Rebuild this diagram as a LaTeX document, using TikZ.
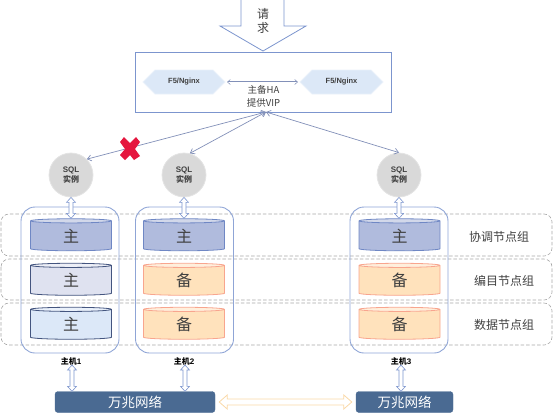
\documentclass[tikz,border=0pt]{standalone}
\usepackage{fontspec}
\setmainfont{Liberation Sans}
\newfontfamily\cjk{Noto Sans CJK SC}
\usetikzlibrary{shapes.geometric,arrows.meta,calc}
\definecolor{hostc}{HTML}{8FA5D6}
\definecolor{dashc}{HTML}{A6A6A6}
\definecolor{linkc}{HTML}{8290B8}
\definecolor{dblc}{HTML}{7C95CE}
\definecolor{netc}{HTML}{4A6A92}
\definecolor{txtc}{HTML}{404040}
\definecolor{sqlf}{HTML}{D9D9D9}
\definecolor{sqlb}{HTML}{E4E4E4}
\definecolor{hexc}{HTML}{DCE8F7}
\definecolor{hexb}{HTML}{EAF1FA}
\definecolor{orgl}{HTML}{FAD9A8}
\definecolor{crossc}{HTML}{E5173F}
\definecolor{abody}{HTML}{B0BBDD}
\definecolor{aend}{HTML}{D2D8EA}
\definecolor{aline}{HTML}{6F87C4}
\definecolor{bbody}{HTML}{DFE2F0}
\definecolor{bend}{HTML}{EDEFF7}
\definecolor{bline}{HTML}{44557F}
\definecolor{cbody}{HTML}{DCE8F8}
\definecolor{cend}{HTML}{EAF1FB}
\definecolor{dbody}{HTML}{FFE2BC}
\definecolor{dend}{HTML}{FFEFDC}
\definecolor{dline}{HTML}{F8A58E}
\tikzset{
  x=1pt,y=-1pt,
  group/.style={draw=dashc,dash pattern=on 3.5pt off 2pt,line width=.6pt,rounded corners=8pt},
  host/.style={draw=hostc,line width=.9pt,rounded corners=14pt,minimum width=98pt,minimum height=146pt,inner sep=0pt},
  db/.style n args={3}{shape=cylinder,shape border rotate=90,aspect=.26,draw=#3,line width=.8pt,cylinder uses custom fill,cylinder body fill=#1,cylinder end fill=#2,minimum width=81pt,minimum height=32pt,inner sep=0pt,text=txtc,font=\cjk\fontsize{16}{16}\selectfont},
  dba/.style={db={abody}{aend}{aline}},
  dbb/.style={db={bbody}{bend}{bline}},
  dbc/.style={db={cbody}{cend}{bline}},
  dbd/.style={db={dbody}{dend}{dline}},
  sql/.style={circle,fill=sqlf,draw=sqlb,line width=.8pt,minimum size=44pt,inner sep=0pt,align=center,text=txtc,font=\bfseries\fontsize{8}{10}\selectfont},
  hexa/.style={fill=hexc,draw=hexb,line width=.8pt},
  hexlbl/.style={inner sep=0pt,text=txtc,font=\bfseries\fontsize{7.5}{8}\selectfont},
  blk/.style={draw=dblc,line width=.6pt,fill=white},
  wideblk/.style={draw=orgl,line width=.8pt,fill=white},
  link/.style={draw=linkc,line width=.7pt,{Straight Barb[length=4pt,width=6pt]}-{Straight Barb[length=4pt,width=6pt]}},
  halink/.style={draw=linkc,line width=.5pt,double=white,double distance=.8pt,{Straight Barb[length=3pt,width=5pt]}-{Straight Barb[length=3pt,width=5pt]}},
  net/.style={fill=netc,draw=netc,rounded corners=3pt,minimum height=21pt,inner sep=0pt,text=white,font=\cjk\fontsize{13.5}{14}\selectfont},
  hostlbl/.style={inner sep=0pt,font=\fontsize{8}{8}\selectfont\bfseries,text=black},
  grouplbl/.style={inner sep=0pt,text=txtc,font=\cjk\fontsize{12}{12}\selectfont},
}
\newcommand{\hanbf}[1]{{\cjk\bfseries #1}}
\newcommand{\low}[1]{\raisebox{-2pt}{#1}}
% vertical block double arrow between two named points (top, bottom)
\newcommand{\vblock}[2]{%
  \draw[blk] let \p1=(#1), \p2=(#2) in
    (\x1,\y1) -- (\x1+4.5pt,\y1-5pt) -- (\x1+2pt,\y1-5pt) -- (\x1+2pt,\y2+5pt) -- (\x1+4.5pt,\y2+5pt)
    -- (\x1,\y2) -- (\x1-4.5pt,\y2+5pt) -- (\x1-2pt,\y2+5pt) -- (\x1-2pt,\y1-5pt) -- (\x1-4.5pt,\y1-5pt) -- cycle;}
% horizontal block double arrow between two named points (left, right)
\newcommand{\hblock}[2]{%
  \draw[wideblk] let \p1=(#1), \p2=(#2) in
    (\x1,\y1) -- (\x1+8pt,\y1+7pt) -- (\x1+8pt,\y1+3pt) -- (\x2-8pt,\y1+3pt) -- (\x2-8pt,\y1+7pt)
    -- (\x2,\y1) -- (\x2-8pt,\y1-7pt) -- (\x2-8pt,\y1-3pt) -- (\x1+8pt,\y1-3pt) -- (\x1+8pt,\y1-7pt) -- cycle;}
\begin{document}
\begin{tikzpicture}
\useasboundingbox (0,0) rectangle (553,413);
% dashed groups
\draw[group] (1,214) rectangle (552,256);
\draw[group] (1,259) rectangle (552,300);
\draw[group] (1,303) rectangle (552,345);
% top
\draw[draw=dblc,line width=.8pt,fill=white] (241,-1) -- (284,-1) -- (284,26) -- (306,26) -- (263,51) -- (220,26) -- (241,26) -- cycle;
\node[inner sep=0pt,align=center,text=txtc,font=\cjk\fontsize{12}{14}\selectfont] (req) at (263,21) {请\\求};
\node[draw=dblc,line width=.9pt,minimum width=256pt,minimum height=60pt,inner sep=0pt] (lb) at (263,82) {};
\draw[hexa] (143,82) -- (155,70) -- (213,70) -- (225,82) -- (213,94) -- (155,94) -- cycle;
\draw[hexa] (300,82) -- (312,70) -- (371,70) -- (383,82) -- (371,94) -- (312,94) -- cycle;
\node[hexlbl] (h1) at (184,82) {F5/Nginx};
\node[hexlbl] (h2) at (341.5,82) {F5/Nginx};
\coordinate (hal) at (227,82);
\coordinate (har) at (298,82);
\draw[halink] (hal) -- (har);
\node[inner sep=0pt,align=center,text=txtc,font=\cjk\fontsize{9.5}{13}\selectfont] (ha) at (263.5,96.5) {主备HA\\提供VIP};
% hosts
\node[host] (host1) at (70,280) {};
\node[host] (host2) at (184.5,280) {};
\node[host] (host3) at (399,280) {};
% cylinders
\node[dba] (a1) at (71,236) {\low{主}};
\node[dbb] (a2) at (71,280.5) {\low{主}};
\node[dbc] (a3) at (71,324.5) {\low{主}};
\node[dba] (b1) at (184,236) {\low{主}};
\node[dbd] (b2) at (184,280.5) {\low{备}};
\node[dbd] (b3) at (184,324.5) {\low{备}};
\node[dba] (c1) at (399.5,236) {\low{主}};
\node[dbd] (c2) at (399.5,280.5) {\low{备}};
\node[dbd] (c3) at (399.5,324.5) {\low{备}};
% sql
\node[sql] (s1) at (71,175) {SQL\\\hanbf{实例}};
\node[sql] (s2) at (184,175) {SQL\\\hanbf{实例}};
\node[sql] (s3) at (399,175) {SQL\\\hanbf{实例}};
\coordinate (vip) at (266,112);
\draw[link] (vip) -- (s1.45);
\draw[link] (vip) -- (s2.75);
\draw[link] (vip) -- (s3.north);
\vblock{s1.south}{a1.north}
\vblock{s2.south}{b1.north}
\vblock{s3.south}{c1.north}
% red cross
\fill[crossc] (124,137) -- (130,143) -- (136,137) -- (140,142) -- (135,149) -- (140,156) -- (134,160) -- (130,155) -- (125,160) -- (120,155) -- (125,149) -- (120,142) -- cycle;
% group labels
\node[grouplbl] (g1) at (499,237) {协调节点组};
\node[grouplbl] (g2) at (504,281) {编目节点组};
\node[grouplbl] (g3) at (504,325) {数据节点组};
% host labels
\node[hostlbl] (l1) at (71,361) {\hanbf{主机}1};
\node[hostlbl] (l2) at (184,361) {\hanbf{主机}2};
\node[hostlbl] (l3) at (401,361) {\hanbf{主机}3};
% net
\node[net,minimum width=160pt] (n1) at (135,402) {万兆网络};
\node[net,minimum width=97pt] (n2) at (404.5,402) {万兆网络};
\coordinate (t1) at ([xshift=1pt]l1.south);
\coordinate (t2) at ([xshift=1pt]l2.south);
\coordinate (t3) at (l3.south);
\vblock{t1}{t1 |- n1.north}
\vblock{t2}{t2 |- n1.north}
\vblock{t3}{t3 |- n2.north}
\coordinate (e1) at ([xshift=4pt]n1.east);
\coordinate (e2) at ([xshift=-4pt]n2.west);
\hblock{e1}{e2}
\end{tikzpicture}
\end{document}
